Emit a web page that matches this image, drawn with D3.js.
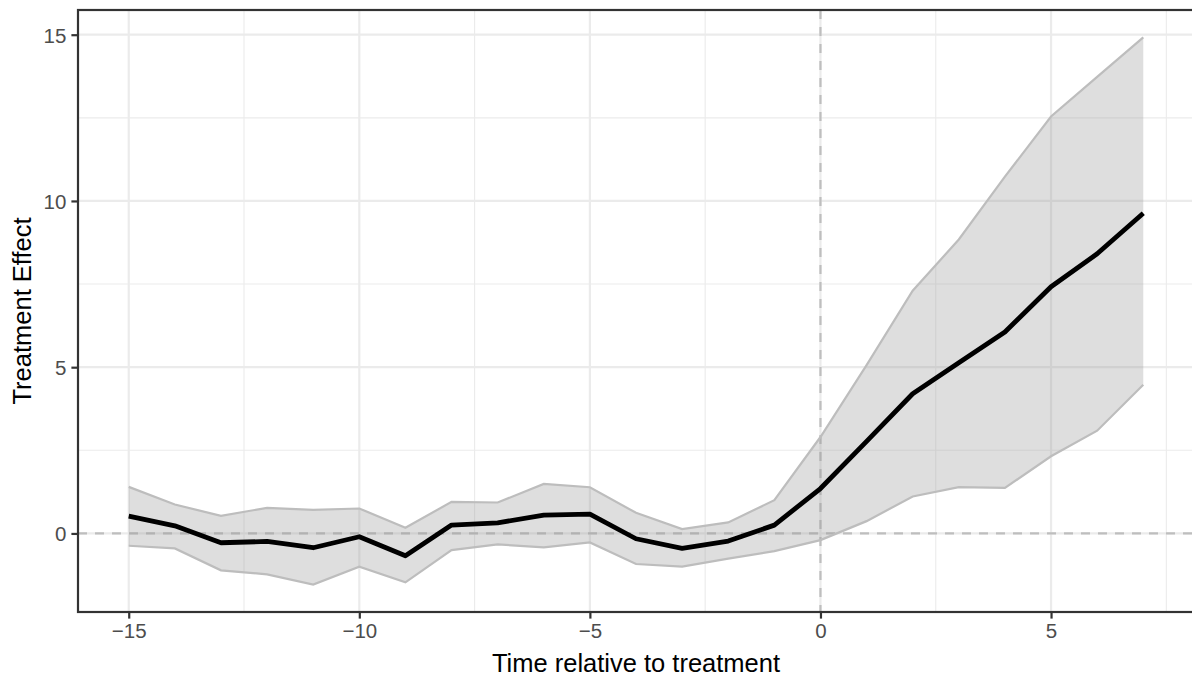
<!DOCTYPE html>
<html>
<head>
<meta charset="utf-8">
<script src="https://cdn.jsdelivr.net/npm/d3@7"></script>
<style>
  html, body { margin: 0; padding: 0; background: #fff; }
  svg { display: block; font-family: "Liberation Sans", Arial, Helvetica, sans-serif; }
</style>
</head>
<body>
<svg id="chart" width="1192" height="684"></svg>
<script>
// ---- data ----
const times = [-15,-14,-13,-12,-11,-10,-9,-8,-7,-6,-5,-4,-3,-2,-1,0,1,2,3,4,5,6,7];
const estimate = [0.52,0.23,-0.28,-0.24,-0.43,-0.10,-0.67,0.25,0.32,0.55,0.58,-0.16,-0.45,-0.23,0.25,1.35,2.77,4.20,5.13,6.06,7.42,8.41,9.63];
const upper = [1.40,0.87,0.53,0.77,0.71,0.75,0.17,0.95,0.93,1.49,1.39,0.62,0.13,0.33,1.00,2.90,5.06,7.30,8.84,10.73,12.54,13.73,14.92];
const lower = [-0.37,-0.45,-1.11,-1.23,-1.54,-1.00,-1.47,-0.50,-0.33,-0.42,-0.27,-0.92,-1.00,-0.76,-0.53,-0.20,0.37,1.11,1.39,1.37,2.32,3.09,4.47];
const xTicks = [-15,-10,-5,0,5];
const xMinor = [-12.5,-7.5,-2.5,2.5,7.5];
const yTicks = [0,5,10,15];
const yMinor = [2.5,7.5,12.5];
const xTitle = "Time relative to treatment";
const yTitle = "Treatment Effect";

const rows = times.map((t,i)=>({t, est: estimate[i], lo: lower[i], hi: upper[i]}));

const panel = {left: 78, right: 1194, top: 10, bottom: 612};
const svg = d3.select("#chart");

function expand(ext){ const d = (ext[1]-ext[0])*0.05; return [ext[0]-d, ext[1]+d]; }
const x = d3.scaleLinear().domain(expand(d3.extent(times))).range([panel.left, panel.right]);
const y = d3.scaleLinear().domain(expand([d3.min(lower), d3.max(upper)])).range([panel.bottom, panel.top]);

const g = svg.append("g");
g.append("rect").attr("x",panel.left).attr("y",panel.top)
  .attr("width",panel.right-panel.left).attr("height",panel.bottom-panel.top).attr("fill","#fff");

// minor grid
g.selectAll(".xminor").data(xMinor).join("line")
  .attr("x1",d=>x(d)).attr("x2",d=>x(d)).attr("y1",panel.top).attr("y2",panel.bottom)
  .attr("stroke","#EBEBEB").attr("stroke-width",1.1);
g.selectAll(".yminor").data(yMinor).join("line")
  .attr("y1",d=>y(d)).attr("y2",d=>y(d)).attr("x1",panel.left).attr("x2",panel.right)
  .attr("stroke","#EBEBEB").attr("stroke-width",1.1);
// major grid
g.selectAll(".xmajor").data(xTicks).join("line")
  .attr("x1",d=>x(d)).attr("x2",d=>x(d)).attr("y1",panel.top).attr("y2",panel.bottom)
  .attr("stroke","#EBEBEB").attr("stroke-width",2.2);
g.selectAll(".ymajor").data(yTicks).join("line")
  .attr("y1",d=>y(d)).attr("y2",d=>y(d)).attr("x1",panel.left).attr("x2",panel.right)
  .attr("stroke","#EBEBEB").attr("stroke-width",2.2);

// reference dashed lines
g.append("line").attr("x1",panel.left).attr("x2",panel.right).attr("y1",y(0)).attr("y2",y(0))
  .attr("stroke","#BEBEBE").attr("stroke-width",2.2).attr("stroke-dasharray","9,8");
g.append("line").attr("x1",x(0)).attr("x2",x(0)).attr("y1",panel.top).attr("y2",panel.bottom)
  .attr("stroke","#BEBEBE").attr("stroke-width",2.2).attr("stroke-dasharray","9,8");

// ribbon
const area = d3.area().x(d=>x(d.t)).y0(d=>y(d.lo)).y1(d=>y(d.hi));
g.append("path").datum(rows).attr("d",area)
  .attr("fill","rgb(153,153,153)").attr("fill-opacity",0.32).attr("stroke","none");
g.append("path").datum(rows).attr("d",d3.line().x(d=>x(d.t)).y(d=>y(d.hi)))
  .attr("fill","none").attr("stroke","#BDBDBD").attr("stroke-width",2.2);
g.append("path").datum(rows).attr("d",d3.line().x(d=>x(d.t)).y(d=>y(d.lo)))
  .attr("fill","none").attr("stroke","#BDBDBD").attr("stroke-width",2.2);

// estimate line
g.append("path").datum(rows).attr("d",d3.line().x(d=>x(d.t)).y(d=>y(d.est)))
  .attr("fill","none").attr("stroke","#000").attr("stroke-width",4.8)
  .attr("stroke-linejoin","round").attr("stroke-linecap","butt");

// panel border
g.append("rect").attr("x",panel.left).attr("y",panel.top)
  .attr("width",panel.right-panel.left).attr("height",panel.bottom-panel.top)
  .attr("fill","none").attr("stroke","#333333").attr("stroke-width",2.2);

// axes
const fmt = d => d < 0 ? "\u2212" + Math.abs(d) : String(d);
const xAxis = d3.axisBottom(x).tickValues(xTicks).tickFormat(fmt).tickSize(6.6).tickPadding(5);
const yAxis = d3.axisLeft(y).tickValues(yTicks).tickFormat(fmt).tickSize(6.6).tickPadding(5);

const gx = svg.append("g").attr("transform",`translate(0,${panel.bottom})`).call(xAxis);
const gy = svg.append("g").attr("transform",`translate(${panel.left},0)`).call(yAxis);
[gx, gy].forEach(a=>{
  a.select(".domain").remove();
  a.selectAll(".tick line").attr("stroke","#333333").attr("stroke-width",2.2);
  a.selectAll(".tick text").attr("fill","#4D4D4D").attr("font-size",20.5)
    .attr("font-family","'Liberation Sans', Arial, sans-serif");
});
gx.selectAll(".tick text").attr("dy",null).attr("y",26);
gy.selectAll(".tick text").attr("dy","0.36em");

// titles
svg.append("text").attr("x",(panel.left+panel.right)/2).attr("y",672)
  .attr("text-anchor","middle").attr("font-size",25.5).attr("fill","#000").text(xTitle);
svg.append("text").attr("transform",`translate(31,${(panel.top+panel.bottom)/2}) rotate(-90)`)
  .attr("text-anchor","middle").attr("font-size",25.5).attr("fill","#000").text(yTitle);
</script>
</body>
</html>
